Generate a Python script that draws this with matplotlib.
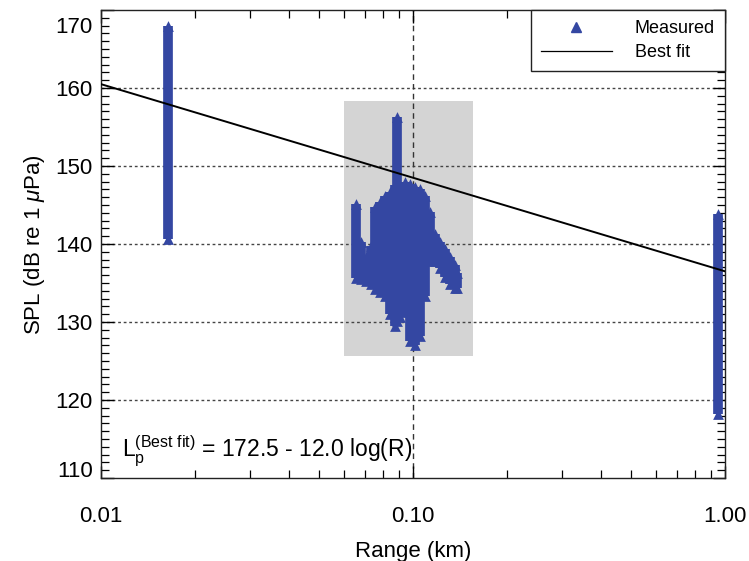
import numpy as np
import matplotlib
matplotlib.use("Agg")
import matplotlib.pyplot as plt
from matplotlib.ticker import MultipleLocator, NullFormatter, LogLocator
from matplotlib.patches import Rectangle
from matplotlib.lines import Line2D
from matplotlib.transforms import ScaledTranslation

plt.rcParams['font.family'] = ['Liberation Sans', 'DejaVu Sans']
plt.rcParams['mathtext.fontset'] = 'custom'
plt.rcParams['mathtext.rm'] = 'Liberation Sans'
plt.rcParams['mathtext.it'] = 'Liberation Sans:italic'

# Measured SPL streaks: range (km), min SPL, max SPL
near_x = [0.0164]
near_min = [140.6]
near_max = [168.0]

cluster_x = [0.0657, 0.0681, 0.0707, 0.0733, 0.0755, 0.0784, 0.0813, 0.0844,
             0.0876, 0.0889, 0.0909, 0.0943, 0.0978, 0.1015, 0.1053, 0.1093,
             0.1134, 0.1176, 0.1221, 0.1266, 0.1314, 0.1363, 0.1385]
cluster_min = [135.6, 135.5, 135.2, 134.9, 134.2, 133.9, 133.3, 131.0,
               129.5, 130.1, 130.7, 131.3, 127.6, 127.1, 128.2, 133.3,
               137.8, 137.8, 136.9, 135.8, 134.9, 134.4, 134.4]
cluster_max = [145.1, 140.3, 138.4, 139.7, 144.8, 145.4, 146.1, 146.7,
               147.6, 156.3, 147.3, 148.0, 147.7, 147.3, 147.0, 146.1,
               144.1, 141.3, 140.3, 139.3, 138.4, 137.3, 136.3]

far_x = [0.95]
far_min = [118.2]
far_max = [143.8]

# Best-fit line: L = 172.5 - 12.0 log10(R[m])
fit_a = 172.5
fit_b = 12.0
fit_range_km = [0.01, 1.0]

# Highlight box (range km, SPL)
box_x = [0.060, 0.1557]
box_y = [125.7, 158.3]

blue = '#3447a2'

fig = plt.figure(figsize=(7.49, 5.61), dpi=100)
ax = fig.add_axes([0.135, 0.148, 0.833, 0.834])
ax.set_xscale('log')
ax.set_xlim(0.01, 1.0)
ax.set_ylim(110, 170)

ax.add_patch(Rectangle((box_x[0], box_y[0]), box_x[1] - box_x[0], box_y[1] - box_y[0],
                       facecolor='#d4d4d4', edgecolor='none', zorder=0))

for y in [120, 130, 140, 150, 160]:
    ax.axhline(y, color='#444444', lw=1.0, ls=(0, (2, 2)), zorder=1)
ax.axvline(0.1, color='#333333', lw=1.0, ls=(0, (4, 3)), zorder=1)

xs = near_x + cluster_x + far_x
ymins = near_min + cluster_min + far_min
ymaxs = near_max + cluster_max + far_max
ax.vlines(xs, ymins, ymaxs, colors=blue, lw=7.0, zorder=2, capstyle='butt')
ax.scatter(xs, ymaxs, marker='^', s=60, color=blue, zorder=2, linewidths=0)
ax.scatter(xs, ymins, marker='^', s=60, color=blue, zorder=2, linewidths=0)

rr = np.array(fit_range_km)
ax.plot(rr, fit_a - fit_b * np.log10(rr * 1000), color='black', lw=1.4, zorder=3)

ax.text(0.01167, 112.7, r'L$_{\mathregular{p}}^{\mathregular{(Best\ fit)}}$ = 172.5 - 12.0 log(R)',
        fontsize=16.5, ha='left', va='baseline', zorder=4)

ax.set_yticks([110, 120, 130, 140, 150, 160, 170])
ax.yaxis.set_minor_locator(MultipleLocator(1))
ax.set_xticks([0.01, 0.1, 1.0])
ax.set_xticklabels(['0.01', '0.10', '1.00'])
ax.xaxis.set_minor_locator(LogLocator(base=10, subs=np.arange(2, 10)))
ax.xaxis.set_minor_formatter(NullFormatter())

ax.tick_params(which='both', direction='in', top=True, right=True, labelsize=16, colors='black')
ax.tick_params(which='major', length=9, width=1.0)
ax.tick_params(which='minor', length=6, width=0.9)
ax.tick_params(axis='y', which='major', pad=6)
ax.tick_params(axis='x', which='major', pad=20)
for s in ax.spines.values():
    s.set_linewidth(1.0)
    s.set_color('#222222')

yticks = ax.yaxis.get_major_ticks()
lab0 = yticks[0].label1
lab0.set_transform(lab0.get_transform() + ScaledTranslation(0, 9 / 100, fig.dpi_scale_trans))
labN = yticks[-1].label1
labN.set_transform(labN.get_transform() + ScaledTranslation(0, -15 / 100, fig.dpi_scale_trans))

ax.set_xlabel('Range (km)', fontsize=16, labelpad=10)
ax.set_ylabel(r'SPL (dB re 1 $\mathit{\mu}$Pa)', fontsize=16, labelpad=6)

handles = [Line2D([], [], marker='^', color=blue, ls='none', markersize=7),
           Line2D([], [], color='black', lw=0.9)]
leg = ax.legend(handles, ['Measured', 'Best fit'], loc='upper right', fontsize=13,
                frameon=True, fancybox=False, borderaxespad=0, handlelength=3.9,
                borderpad=0.55, labelspacing=0.4, handletextpad=1.3, framealpha=1)
leg.get_frame().set_edgecolor('#222222')
leg.get_frame().set_linewidth(1.0)

fig.savefig('out.png', dpi=100)
